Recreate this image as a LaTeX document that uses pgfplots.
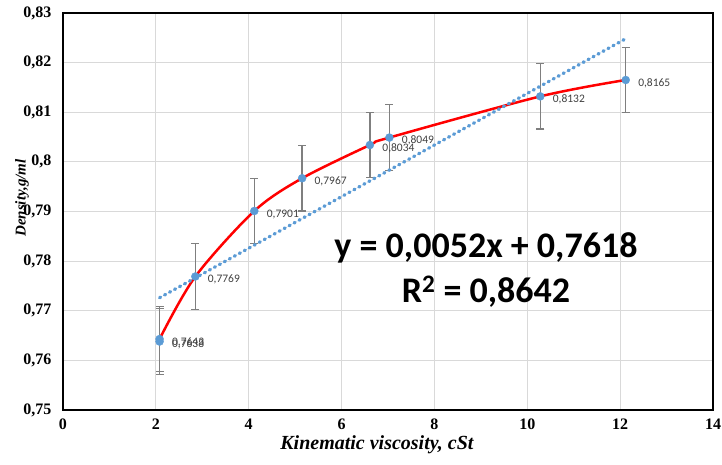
\documentclass[border=0pt]{standalone}
\usepackage{fontspec}
\setmainfont{Liberation Serif}
\newfontfamily\carlito{Carlito}
\usepackage{pgfplots}
\pgfplotsset{compat=1.18}
\definecolor{ptblue}{HTML}{5B9BD5}
\definecolor{lblgray}{HTML}{404040}
\definecolor{errgray}{HTML}{7F7F7F}
\definecolor{gridgray}{HTML}{D9D9D9}

\pgfplotstableread{
x     y      e       lbl
2.08  0.7643 0.0066  0,7643
2.08  0.7638 0.0066  0,7638
2.85  0.7769 0.0066  0,7769
4.12  0.7901 0.0066  0,7901
5.15  0.7967 0.0066  0,7967
6.61  0.8034 0.0066  0,8034
7.03  0.8049 0.0066  0,8049
10.28 0.8132 0.0066  0,8132
12.12 0.8165 0.0066  0,8165
}\density

\begin{document}
\begin{tikzpicture}
\path[use as bounding box] (-63pt,-54pt) rectangle (659pt,410pt);
\begin{axis}[
    at={(0,0)}, anchor=south west,
    scale only axis,
    width=650pt, height=397pt,
    xmin=0, xmax=14, ymin=0.75, ymax=0.83,
    xtick={0,2,4,6,8,10,12,14},
    ytick={0.75,0.76,0.77,0.78,0.79,0.8,0.81,0.82,0.83},
    grid=major,
    major grid style={gridgray, line width=1pt},
    axis line style={black, line width=1.8pt},
    tick style={draw=none},
    ticklabel style={font=\fontsize{16}{16}\selectfont\bfseries},
    /pgf/number format/assume math mode=true,
    /pgf/number format/use comma,
    yticklabel style={xshift=-8pt},
    xticklabel style={yshift=-5pt},
    xlabel={Kinematic viscosity, cSt},
    xlabel style={font=\fontsize{20}{20}\selectfont\bfseries\itshape,
        at={(axis description cs:0.483,-0.087)}, anchor=center},
    ylabel={Density,g/ml},
    ylabel style={font=\fontsize{15}{15}\selectfont\bfseries\itshape,
        at={(axis description cs:-0.063,0.534)}, anchor=center},
]
% error bars
\addplot[draw=none, mark=none, forget plot,
    error bars/.cd, y dir=both, y explicit,
    error bar style={draw=errgray, solid, line width=1.3pt},
    error mark options={draw=errgray, rotate=90, mark size=4pt, line width=1.3pt}]
    table[x=x, y=y, y error=e] {\density};
% smoothed line through the points
\addplot[red, line width=2.5pt, smooth, mark=none] coordinates {
    (2.08,0.7643) (2.85,0.7769) (4.12,0.7901) (5.15,0.7967) (6.61,0.8034)
    (7.03,0.8049) (10.28,0.8132) (12.12,0.8165)};
% linear trend
\addplot[ptblue, line width=3.3pt, line cap=round, dash pattern=on 1.2pt off 4.5pt, mark=none]
    coordinates {(2.08,0.77262) (12.12,0.82482)};
% points with labels
\addplot[only marks, mark=*, mark size=4pt, color=ptblue,
    point meta=explicit symbolic,
    nodes near coords,
    nodes near coords style={anchor=west, xshift=9pt, yshift=-3pt,
        font=\carlito\fontsize{11.5}{11.5}\selectfont, text=lblgray}]
    table[x=x, y=y, meta=lbl] {\density};
\node[font=\carlito\bfseries\fontsize{36}{36}\selectfont, anchor=base]
    at (axis cs:9.11,0.78083) {y = 0,0052x + 0,7618};
\node[font=\carlito\bfseries\fontsize{36}{36}\selectfont, anchor=base]
    at (axis cs:9.11,0.77176) {R\textsuperscript{2} = 0,8642};
\end{axis}
\end{tikzpicture}
\end{document}
